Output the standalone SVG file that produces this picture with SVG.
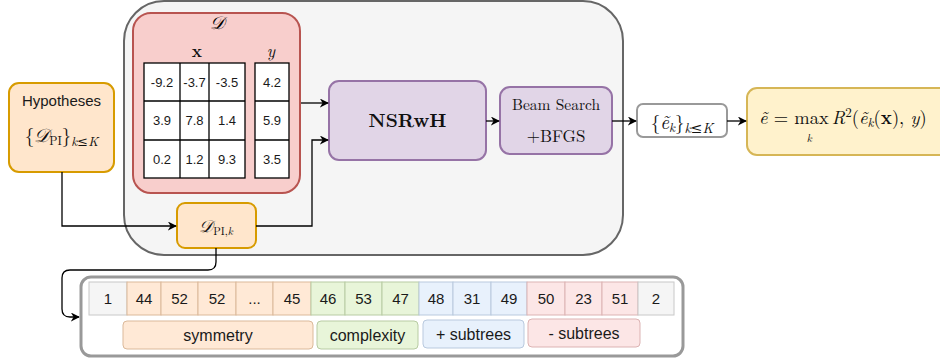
<svg xmlns="http://www.w3.org/2000/svg" width="940" height="364" viewBox="0 0 940 364">
<defs>
<style>
.sans{font-family:"Liberation Sans",Arial,sans-serif;fill:#1a1a1a}
.ser{font-family:"Latin Modern Roman","DejaVu Serif","Liberation Serif",serif;fill:#111}
.mi{font-style:italic}
.cal{font-family:"DejaVu Serif","Noto Sans","Liberation Serif",serif;font-style:italic}
.conn{fill:none;stroke:#000;stroke-width:1.3}
.cell{stroke-width:1}
.tbl{fill:#fff;stroke:#000;stroke-width:1.3}
</style>
<marker id="ah" viewBox="0 0 10 10" refX="9" refY="5" markerWidth="9" markerHeight="9" markerUnits="userSpaceOnUse" orient="auto">
<path d="M0,0 L10,5 L0,10 L3,5 z" fill="#000"/>
</marker>
</defs>

<g id="container">
<rect x="124" y="1" width="499" height="254" rx="40" fill="#f5f5f5" stroke="#666" stroke-width="2"/>
</g>

<g id="dataset">
<rect x="133" y="13" width="167" height="180" rx="18" fill="#f8cecc" stroke="#b85450" stroke-width="2"/>
<text class="cal" x="217" y="29" font-size="18" text-anchor="middle">𝒟</text>
<text class="ser" x="197" y="57" font-size="17" font-weight="bold" text-anchor="middle">x</text>
<text class="ser mi" x="271" y="57" font-size="17" text-anchor="middle">y</text>
<g class="tbl">
<rect x="144" y="63" width="101" height="115"/>
<line x1="180" y1="63" x2="180" y2="178"/>
<line x1="209" y1="63" x2="209" y2="178"/>
<line x1="144" y1="101" x2="245" y2="101"/>
<line x1="144" y1="140" x2="245" y2="140"/>
<rect x="255" y="63" width="34" height="115"/>
<line x1="255" y1="101" x2="289" y2="101"/>
<line x1="255" y1="140" x2="289" y2="140"/>
</g>
<g class="sans" font-size="13" text-anchor="middle">
<text x="162" y="87">-9.2</text><text x="194.5" y="87">-3.7</text><text x="227" y="87">-3.5</text><text x="272" y="87">4.2</text>
<text x="162" y="125">3.9</text><text x="194.5" y="125">7.8</text><text x="227" y="125">1.4</text><text x="272" y="125">5.9</text>
<text x="162" y="164">0.2</text><text x="194.5" y="164">1.2</text><text x="227" y="164">9.3</text><text x="272" y="164">3.5</text>
</g>
</g>

<g id="hypotheses">
<rect x="9" y="83" width="105" height="89" rx="10" fill="#ffe6cc" stroke="#d79b00" stroke-width="2"/>
<text class="sans" x="61.5" y="106" font-size="15" text-anchor="middle">Hypotheses</text>
<text class="ser" x="61.5" y="142" font-size="19" text-anchor="middle">{<tspan class="cal">𝒟</tspan><tspan font-size="12" dy="3">PI</tspan><tspan dy="-3">}</tspan><tspan class="mi" font-size="13" dy="4">k</tspan><tspan font-size="13">≤</tspan><tspan class="mi" font-size="13">K</tspan></text>
</g>

<g id="dpik">
<rect x="177" y="203" width="79" height="45" rx="8" fill="#ffe6cc" stroke="#d79b00" stroke-width="2"/>
<text class="ser" x="216" y="232" font-size="17" text-anchor="middle"><tspan class="cal">𝒟</tspan><tspan font-size="11" dy="3">PI,</tspan><tspan class="mi" font-size="11">k</tspan></text>
</g>

<g id="nsrwh">
<rect x="329" y="81" width="157" height="79" rx="10" fill="#e1d5e7" stroke="#9673a6" stroke-width="2"/>
<text class="ser" x="407.5" y="127" font-size="19" font-weight="bold" text-anchor="middle">NSRwH</text>
</g>

<g id="beam">
<rect x="500" y="87" width="112" height="67" rx="10" fill="#e1d5e7" stroke="#9673a6" stroke-width="2"/>
<text class="ser" x="556" y="110" font-size="15.5" text-anchor="middle">Beam Search</text>
<text class="ser" x="556" y="142" font-size="17" text-anchor="middle">+BFGS</text>
</g>

<g id="ek">
<rect x="637" y="104" width="90" height="33" rx="6" fill="#fff" stroke="#999" stroke-width="2"/>
<text class="ser" x="682" y="129" font-size="19" text-anchor="middle">{<tspan class="mi">ẽ</tspan><tspan class="mi" font-size="13" dy="3">k</tspan><tspan dy="-3">}</tspan><tspan class="mi" font-size="14" dy="4">k</tspan><tspan font-size="14">≤</tspan><tspan class="mi" font-size="14">K</tspan></text>
</g>

<g id="result">
<rect x="747" y="88" width="205" height="67" rx="10" fill="#fff2cc" stroke="#d6b656" stroke-width="2"/>
<text class="ser" x="759" y="124" font-size="18.5"><tspan class="mi">ẽ</tspan> = max<tspan class="mi" font-size="11" dx="-22" dy="18">k</tspan><tspan class="mi" dx="20" dy="-18">R</tspan><tspan font-size="13" dy="-7">2</tspan><tspan dy="7">(</tspan><tspan class="mi">ẽ</tspan><tspan class="mi" font-size="13" dy="3">k</tspan><tspan dy="-3">(</tspan><tspan font-weight="bold">x</tspan>), <tspan class="mi">y</tspan>)</text>
</g>

<g id="connectors">
<path class="conn" d="M62,172 V226 H176" marker-end="url(#ah)"/>
<path class="conn" d="M256,226 H312 V140 H328" marker-end="url(#ah)"/>
<path class="conn" d="M301,103 H328" marker-end="url(#ah)"/>
<path class="conn" d="M486,121 H499" marker-end="url(#ah)"/>
<path class="conn" d="M612,121 H636" marker-end="url(#ah)"/>
<path class="conn" d="M727,121 H746" marker-end="url(#ah)"/>
<path class="conn" d="M216,248 V262 Q216,270 208,270 H70 Q62,270 62,278 V309 Q62,317 70,317 H79" marker-end="url(#ah)"/>
</g>

<g id="sequence">
<rect x="81" y="277" width="602" height="79" rx="10" fill="#fff" stroke="#999" stroke-width="3"/>
<g class="cell">
<rect x="89" y="282" width="38" height="33" fill="#f5f5f5" stroke="#c8c8c8"/>
<rect x="127" y="282" width="34" height="33" fill="#ffe9d6" stroke="#dbb99a"/>
<rect x="161" y="282" width="37" height="33" fill="#ffe9d6" stroke="#dbb99a"/>
<rect x="198" y="282" width="38" height="33" fill="#ffe9d6" stroke="#dbb99a"/>
<rect x="236" y="282" width="37" height="33" fill="#ffe9d6" stroke="#dbb99a"/>
<rect x="273" y="282" width="38" height="33" fill="#ffe9d6" stroke="#dbb99a"/>
<rect x="311" y="282" width="34" height="33" fill="#e8f5d9" stroke="#b8cba3"/>
<rect x="345" y="282" width="37" height="33" fill="#e8f5d9" stroke="#b8cba3"/>
<rect x="382" y="282" width="37" height="33" fill="#e8f5d9" stroke="#b8cba3"/>
<rect x="419" y="282" width="34" height="33" fill="#e8f1fc" stroke="#b9c9de"/>
<rect x="453" y="282" width="38" height="33" fill="#e8f1fc" stroke="#b9c9de"/>
<rect x="491" y="282" width="36" height="33" fill="#e8f1fc" stroke="#b9c9de"/>
<rect x="527" y="282" width="38" height="33" fill="#fce6e6" stroke="#dcb3b3"/>
<rect x="565" y="282" width="37" height="33" fill="#fce6e6" stroke="#dcb3b3"/>
<rect x="602" y="282" width="36" height="33" fill="#fce6e6" stroke="#dcb3b3"/>
<rect x="638" y="282" width="36" height="33" fill="#f5f5f5" stroke="#c8c8c8"/>
</g>
<g class="sans" font-size="15" text-anchor="middle">
<text x="108" y="304">1</text><text x="144" y="304">44</text><text x="179.5" y="304">52</text><text x="217" y="304">52</text><text x="254.5" y="304">...</text><text x="292" y="304">45</text>
<text x="328" y="304">46</text><text x="363.5" y="304">53</text><text x="400.5" y="304">47</text>
<text x="436" y="304">48</text><text x="472" y="304">31</text><text x="509" y="304">49</text>
<text x="546" y="304">50</text><text x="583.5" y="304">23</text><text x="620" y="304">51</text><text x="656" y="304">2</text>
</g>
<rect x="123" y="321" width="190" height="28" rx="4" fill="#ffe9d6" stroke="#dbb99a"/>
<rect x="317" y="321" width="101" height="28" rx="4" fill="#e8f5d9" stroke="#b8cba3"/>
<rect x="423" y="320" width="101" height="28" rx="4" fill="#e8f1fc" stroke="#b9c9de"/>
<rect x="528" y="319" width="112" height="28" rx="4" fill="#fce6e6" stroke="#dcb3b3"/>
<g class="sans" font-size="16" text-anchor="middle">
<text x="218" y="340.5">symmetry</text>
<text x="367.5" y="340.5">complexity</text>
<text x="473.5" y="339.5">+ subtrees</text>
<text x="584" y="338.5">- subtrees</text>
</g>
</g>
</svg>
